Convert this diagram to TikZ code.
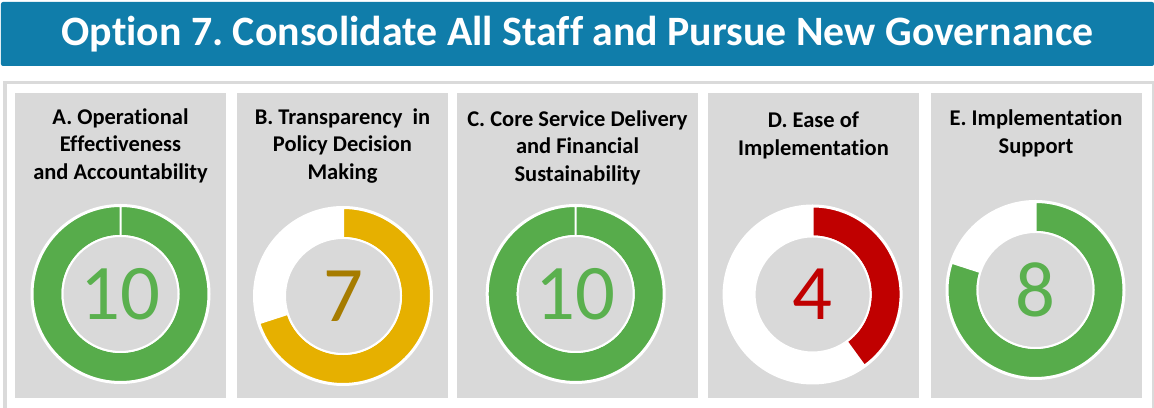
\documentclass[tikz,border=0pt]{standalone}
\usepackage{fontspec}
\setmainfont{Carlito}[Ligatures=NoCommon]
\usepackage{tikz}
\usetikzlibrary{positioning}
\frenchspacing

\definecolor{barblue}{HTML}{107DAA}
\definecolor{panelgray}{HTML}{D9D9D9}
\definecolor{framegray}{HTML}{DADADA}
\definecolor{ringgreen}{HTML}{57AC4B}
\definecolor{numgreen}{HTML}{5AB04E}
\definecolor{ringgold}{HTML}{E6B000}
\definecolor{numgold}{HTML}{A67C00}
\definecolor{ringred}{HTML}{C00000}

\begin{document}
\begin{tikzpicture}[x=0.2mm,y=0.2mm,
    panel/.style={fill=panelgray, minimum width=42.2mm, minimum height=61mm, inner sep=0pt},
    ptitle/.style={align=center, inner sep=0pt, font=\fontsize{12.8}{15.6}\selectfont\bfseries},
    score/.style={inner sep=0pt, font=\fontsize{44.8}{50}\selectfont},
    sep/.style={draw=white, line width=0.4mm}]
    \useasboundingbox[fill=white] (0,0) rectangle (1154,408);

    % title bar and frame
    \node[fill=barblue, rounded corners=0.4mm, minimum width=230.6mm, minimum height=12.8mm,
          text=white, font=\fontsize{23.8}{26}\selectfont\bfseries] (title) at (577.5,374)
          {Option 7. Consolidate All Staff and Pursue New Governance};
    \node[draw=framegray, line width=0.6mm, anchor=north west, minimum width=229.7mm,
          minimum height=70mm] (frame) at (3.5,326.5) {};

    % panels
    \node[panel] (pA) at (120.5,162.5) {};
    \node[panel] (pB) at (342.5,162.5) {};
    \node[panel, minimum width=48.2mm] (pC) at (577.5,162.5) {};
    \node[panel] (pD) at (813.5,162.5) {};
    \node[panel] (pE) at (1036,162.5) {};

    \node[ptitle, below=3.1mm of pA.north] (tA) {A. Operational\\Effectiveness\\and Accountability};
    \node[ptitle, below=3.1mm of pB.north] (tB) {B. Transparency~ in\\Policy Decision\\Making};
    \node[ptitle, below=3.5mm of pC.north] (tC) {C. Core Service Delivery\\and Financial\\Sustainability};
    \node[ptitle, below=3.8mm of pD.north] (tD) {D. Ease of\\Implementation};
    \node[ptitle, below=3.4mm of pE.north] (tE) {E. Implementation\\Support};

    % donuts
    \coordinate (dA) at (120.5,114);
    \coordinate (dB) at (343,112);
    \coordinate (dC) at (575.7,114);
    \coordinate (dD) at (812.6,113.5);
    \coordinate (dE) at (1035.5,118);

    \fill[white] (dA) circle (90);
    \fill[ringgreen, sep] (dA) ++(90:88) arc (90:-270:88) -- ++(-270:-30) arc (-270:90:58) -- cycle;
    \fill[panelgray, sep] (dA) circle (58);
    \node[score, text=numgreen] (nA) at (dA) {10};

    \fill[white] (dB) circle (90);
    \fill[ringgold, sep] (dB) ++(90:88) arc (90:-162:88) -- ++(-162:-30) arc (-162:90:58) -- cycle;
    \fill[panelgray, sep] (dB) circle (58);
    \node[score, text=numgold] (nB) at (dB) {7};

    \fill[white] (dC) circle (90);
    \fill[ringgreen, sep] (dC) ++(90:88) arc (90:-270:88) -- ++(-270:-30) arc (-270:90:58) -- cycle;
    \fill[panelgray, sep] (dC) circle (58);
    \node[score, text=numgreen] (nC) at (dC) {10};

    \fill[white] (dD) circle (90);
    \fill[ringred, sep] (dD) ++(90:88) arc (90:-54:88) -- ++(-54:-30) arc (-54:90:58) -- cycle;
    \fill[panelgray, sep] (dD) circle (58);
    \node[score, text=ringred] (nD) at (dD) {4};

    \fill[white] (dE) circle (90);
    \fill[ringgreen, sep] (dE) ++(90:88) arc (90:-198:88) -- ++(-198:-30) arc (-198:90:58) -- cycle;
    \fill[panelgray, sep] (dE) circle (58);
    \node[score, text=numgreen] (nE) at (dE) {8};
\end{tikzpicture}
\end{document}
